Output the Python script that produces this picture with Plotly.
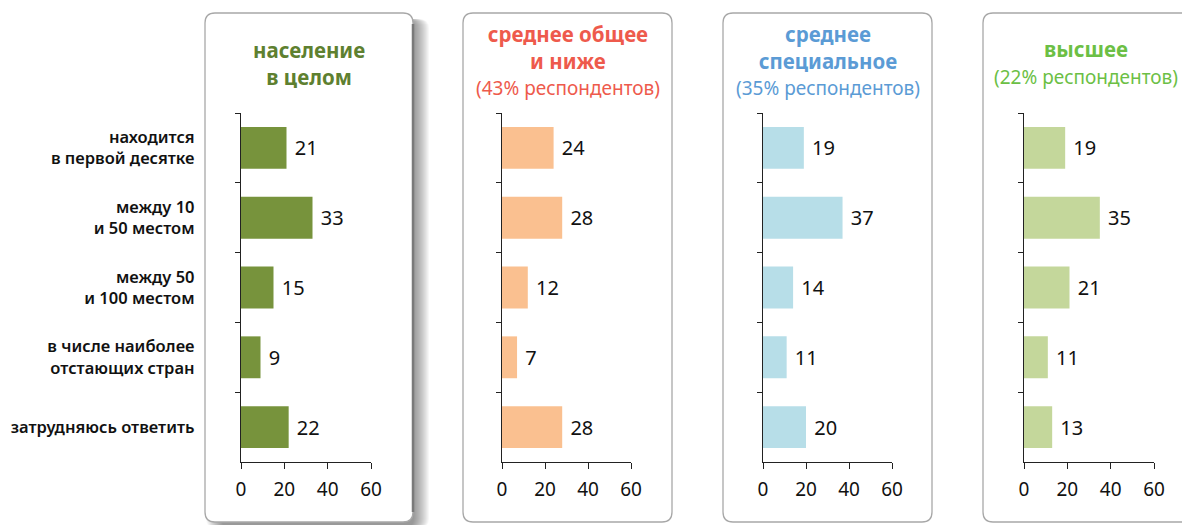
import plotly.graph_objects as go

W, H = 1182, 525

categories = [
    "находится<br>в первой десятке",
    "между 10<br>и 50 местом",
    "между 50<br>и 100 местом",
    "в числе наиболее<br>отстающих стран",
    "затрудняюсь ответить",
]

population_total = [21, 33, 15, 9, 22]
secondary_general = [24, 28, 12, 7, 28]
secondary_special = [19, 37, 14, 11, 20]
higher_education = [19, 35, 21, 11, 13]

panel_heads = [
    ["население", "в целом"],
    ["среднее общее", "и ниже"],
    ["среднее", "специальное"],
    ["высшее"],
]
panel_subs = [None, "(43% респондентов)", "(35% респондентов)", "(22% респондентов)"]
title_colors = ["#5E8030", "#EE5A4C", "#5B9BD5", "#6CBF45"]
bar_colors = ["#77933C", "#FAC090", "#B7DEE8", "#C4D79B"]
series = [population_total, secondary_general, secondary_special, higher_education]

tick_vals = [0, 20, 40, 60]

# pixel layout: axis start/end, frame left/right, title centre and middle line
axis_px = [(241, 371), (502, 631), (763, 892), (1024, 1154)]
frame_px = [(205, 413), (463, 672), (723, 932), (983, 1196)]
title_cx = [309, 567.5, 827.5, 1086]
title_cy = [63.5, 61, 61, 62.5]
plot_top, plot_bottom = 113, 462

FONT = "Noto Sans, sans-serif"


def px_x(x):
    return x / W


def px_y(y):
    return 1 - y / H


def rounded_rect(x0, y0, x1, y1, r):
    rx, ry = r / W, r / H
    X0, X1 = px_x(x0), px_x(x1)
    Y0, Y1 = px_y(y0), px_y(y1)
    return (
        f"M {X0+rx},{Y0} L {X1-rx},{Y0} Q {X1},{Y0} {X1},{Y0-ry} "
        f"L {X1},{Y1+ry} Q {X1},{Y1} {X1-rx},{Y1} "
        f"L {X0+rx},{Y1} Q {X0},{Y1} {X0},{Y1+ry} "
        f"L {X0},{Y0-ry} Q {X0},{Y0} {X0+rx},{Y0} Z"
    )


shapes = []
# drop shadow to the right of the first frame
for i in range(1, 17):
    shapes.append(dict(
        type="path", xref="paper", yref="paper",
        path=rounded_rect(frame_px[0][0] + i, 19, frame_px[0][1] + i, 528, 10),
        fillcolor="rgba(40,40,40,0.04)", line=dict(width=0), layer="below",
    ))

for k, (fx0, fx1) in enumerate(frame_px):
    shapes.append(dict(
        type="path", xref="paper", yref="paper",
        path=rounded_rect(fx0, 13, fx1, 522, 10),
        fillcolor="white", line=dict(color="#A8A8A8", width=1.3),
        layer="below",
    ))
# darker right edge of the first frame
shapes.append(dict(
    type="line", xref="paper", yref="paper",
    x0=px_x(frame_px[0][1]), x1=px_x(frame_px[0][1]),
    y0=px_y(24), y1=px_y(512),
    line=dict(color="#7A7A7A", width=2.5), layer="below",
))

annotations = []
fig = go.Figure()

for k in range(4):
    idx = "" if k == 0 else str(k + 1)
    xa, ya = "x" + idx, "y" + idx
    fig.add_trace(go.Bar(
        x=series[k], y=categories, orientation="h",
        marker=dict(color=bar_colors[k], line=dict(width=0)),
        texttemplate=" %{x}", textposition="outside",
        textfont=dict(size=20, color="#111111", family=FONT),
        cliponaxis=False,
        xaxis=xa, yaxis=ya, showlegend=False, hoverinfo="skip",
    ))
    ax0, ax1 = axis_px[k]
    fig.update_layout(**{
        "xaxis" + idx: dict(
            domain=[px_x(ax0), px_x(ax1)], range=[0, 60], anchor=ya,
            tickvals=tick_vals, ticks="outside", ticklen=6, tickwidth=1.3,
            tickcolor="#222", showline=True, linecolor="#222", linewidth=1.3,
            showgrid=False, zeroline=False, fixedrange=True, automargin=False,
            ticklabelstandoff=4,
            tickfont=dict(size=19, color="#111", family=FONT),
        ),
        "yaxis" + idx: dict(
            domain=[px_y(plot_bottom), px_y(plot_top)], anchor=xa,
            type="category", categoryorder="array", categoryarray=categories,
            autorange="reversed", tickson="boundaries", ticks="outside",
            ticklen=5, tickwidth=1.2, tickcolor="#222",
            showline=True, linecolor="#222", linewidth=1.3, showgrid=False,
            showticklabels=(k == 0), ticklabelstandoff=42, automargin=False,
            tickfont=dict(size=16.5, color="#111", family=FONT, weight=600),
            fixedrange=True,
        ),
    })
    head = "<br>".join(f"<b>{t}</b>" for t in panel_heads[k])
    if panel_subs[k]:
        head += f"<br><span style='font-size:19px'>{panel_subs[k]}</span>"
    annotations.append(dict(
        x=px_x(title_cx[k]), y=px_y(title_cy[k]), xref="paper", yref="paper",
        text=head, showarrow=False, xanchor="center", yanchor="middle",
        font=dict(size=20.5, color=title_colors[k], family=FONT),
    ))

fig.update_layout(
    width=W, height=H, margin=dict(l=0, r=0, t=0, b=0, autoexpand=False),
    template="none",
    paper_bgcolor="white", plot_bgcolor="rgba(0,0,0,0)",
    bargap=0.4, shapes=shapes, annotations=annotations,
    font=dict(family=FONT),
)

fig.write_html("out.html")
